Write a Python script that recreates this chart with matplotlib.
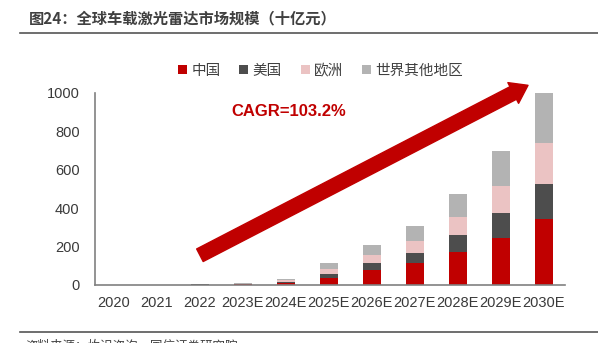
import matplotlib.pyplot as plt
import numpy as np

plt.rcParams['font.family'] = ['Liberation Sans', 'Noto Sans CJK SC', 'DejaVu Sans']

years = ["2020", "2021", "2022", "2023E", "2024E", "2025E",
         "2026E", "2027E", "2028E", "2029E", "2030E"]
china = [0.5, 1, 2, 3, 10, 39, 80, 116, 174, 246, 344]
usa = [0.3, 0.5, 1, 2, 8, 19, 35, 51, 85, 127, 184]
europe = [0.2, 0.3, 0.6, 2, 6, 24, 43, 62, 97, 143, 210]
rest = [0.3, 0.4, 0.8, 5, 9, 32, 50, 78, 118, 182, 266]

series = [("中国", china, "#C00000"),
          ("美国", usa, "#4D4D4D"),
          ("欧洲", europe, "#EBC3C3"),
          ("世界其他地区", rest, "#B3B3B3")]

fig = plt.figure(figsize=(5.98, 3.43), dpi=100)
ax = fig.add_axes([95 / 598, 1 - 285 / 343, 470 / 598, 192 / 343])

x = np.arange(len(years))
bottom = np.zeros(len(years))
for name, vals, color in series:
    ax.bar(x, vals, width=0.42, bottom=bottom, color=color, label=name)
    bottom += np.array(vals)

ax.set_xlim(-0.44, 10.49)
ax.set_ylim(0, 1000)
ax.set_yticks([0, 200, 400, 600, 800, 1000])
ax.set_xticks(x)
ax.set_xticklabels(years)
ax.tick_params(axis="both", length=0, labelsize=10.5, colors="#3a3a3a")
ax.tick_params(axis="x", pad=8)
ax.tick_params(axis="y", pad=11)
for side in ["top", "right"]:
    ax.spines[side].set_visible(False)
for side in ["left", "bottom"]:
    ax.spines[side].set_color("#808080")
    ax.spines[side].set_linewidth(1.2)

# CAGR arrow
ax.annotate("", xy=(9.63, 1040), xytext=(2.0, 155),
            arrowprops=dict(arrowstyle="simple,head_length=1.0,head_width=1.4,tail_width=0.85",
                            color="#C00000", shrinkA=0, shrinkB=0,
                            mutation_scale=12),
            annotation_clip=False)
ax.text(2.74, 905, "CAGR=103.2%", color="#C00000", fontsize=12,
        fontweight="bold", va="center", ha="left")

leg = ax.legend(loc="center", bbox_to_anchor=(0.48, 1.115), ncol=4,
                frameon=False, fontsize=10.5, handlelength=0.6,
                handleheight=0.6, handletextpad=0.3, columnspacing=1.3)
for t in leg.get_texts():
    t.set_color("#404040")

fig.text(29 / 598, 1 - 18 / 343, "图24：全球车载激光雷达市场规模（十亿元）",
         fontsize=11, fontweight="bold", color="#404040", va="center",
         family=['Noto Sans CJK SC', 'DejaVu Sans'])
fig.add_artist(plt.Line2D([20 / 598, 1], [1 - 33 / 343, 1 - 33 / 343],
                          color="#555555", lw=1.2))
fig.add_artist(plt.Line2D([20 / 598, 1], [1 - 332 / 343, 1 - 332 / 343],
                          color="#555555", lw=1.2))
fig.text(25 / 598, 1 - 346 / 343, "资料来源：灼识咨询，国信证券研究院",
         fontsize=9, color="#404040", va="center",
         family=['Noto Sans CJK SC', 'DejaVu Sans'])

fig.savefig("out.png", dpi=100)
